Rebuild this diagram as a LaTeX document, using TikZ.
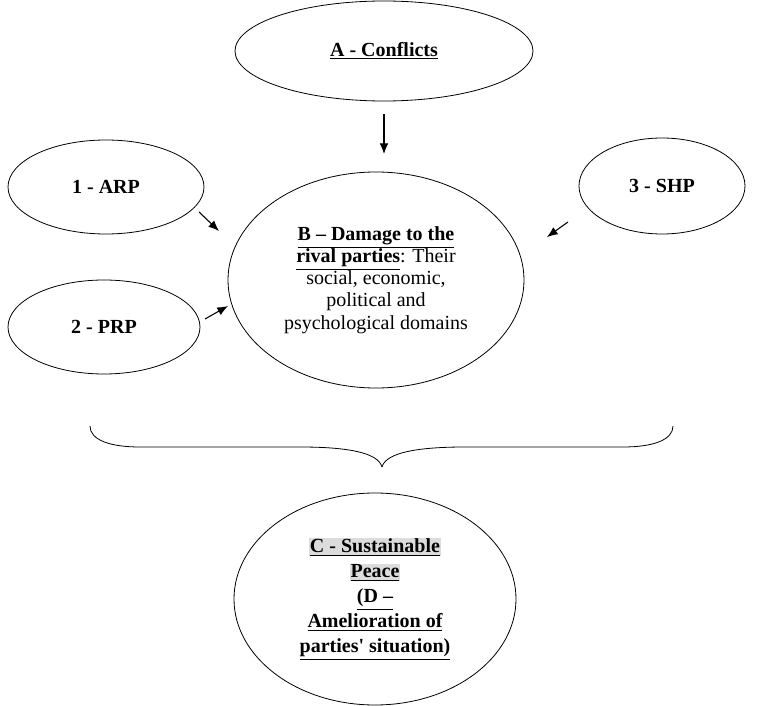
\documentclass[tikz,border=0pt]{standalone}
\usepackage{fontspec}
\setmainfont{Liberation Serif}
\usetikzlibrary{shapes.geometric,arrows.meta}
\definecolor{hlgray}{RGB}{220,220,220}
\newcommand{\ul}[1]{\underline{#1}}
\newcommand{\hlul}[1]{{\setlength{\fboxsep}{0.5pt}\colorbox{hlgray}{\underline{#1}}}}
\newcommand{\sq}{\XeTeXglyph\XeTeXglyphindex "quotesingle"\relax}
\begin{document}
\begin{tikzpicture}[x=0.75pt,y=-0.75pt,
  oval/.style={ellipse,draw,line width=0.6pt,inner sep=0pt,align=center,
    font=\fontsize{15}{16.6}\selectfont},
  arr/.style={line width=0.8pt,-{Latex[length=8pt,width=6.5pt]}},
  brace/.style={line width=0.6pt}]
\useasboundingbox (0,0) rectangle (758,706);
\node[oval,minimum width=223.5pt,minimum height=75pt] (A) at (384,51) {\textbf{\ul{A - Conflicts}}};
\node[oval,minimum width=147pt,minimum height=70.5pt] (n1) at (106,187) {\textbf{1 - ARP}};
\node[oval,minimum width=144pt,minimum height=70.5pt] (n2) at (104,327) {\textbf{2 - PRP}};
\node[oval,minimum width=124.5pt,minimum height=72pt] (n3) at (662,186) {\textbf{3 - SHP}};
\node[oval,minimum width=222pt,minimum height=162pt] (B) at (376,280)
  {\textbf{\ul{B – Damage to the}}\\ \textbf{\ul{rival parties}}: Their\\ social, economic,\\ political and\\ psychological domains};
\node[oval,minimum width=211.5pt,minimum height=159pt,font=\fontsize{15}{18.8}\selectfont] (C) at (375,599)
  {\textbf{\hlul{C - Sustainable}}\\ \textbf{\hlul{Peace}}\\ \textbf{\ul{(D –}}\\ \textbf{\ul{Amelioration of}}\\ \textbf{\ul{parties\sq{} situation)}}};
% free-floating arrows
\coordinate (a0) at (384,114); \coordinate (a1) at (384,154);
\coordinate (p10) at (199,212); \coordinate (p11) at (219,231);
\coordinate (p20) at (205,319); \coordinate (p21) at (228,306);
\coordinate (p30) at (568,222); \coordinate (p31) at (547,237);
\draw[arr] (a0) -- (a1);
\draw[arr] (p10) -- (p11);
\draw[arr] (p20) -- (p21);
\draw[arr] (p30) -- (p31);
% brace
\coordinate (bl) at (90,426); \coordinate (br) at (673,426); \coordinate (bt) at (382,467);
\draw[brace] (bl) .. controls (90,440) and (110,447) .. (140,447) -- (300,447)
  .. controls (345,447) and (378,452) .. (bt);
\draw[brace] (br) .. controls (673,440) and (653,447) .. (623,447) -- (465,447)
  .. controls (420,447) and (386,452) .. (bt);
\end{tikzpicture}
\end{document}
